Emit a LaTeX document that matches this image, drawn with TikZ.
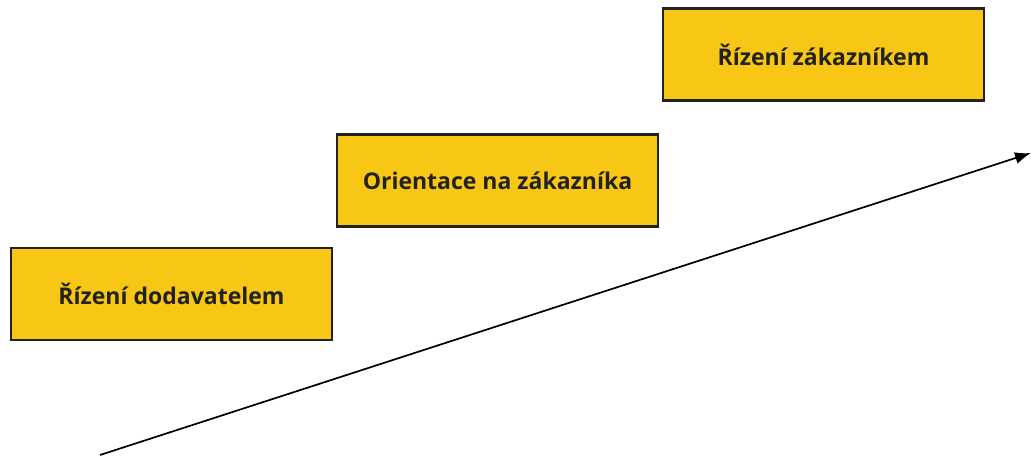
\documentclass[tikz,border=0pt]{standalone}
\usepackage{fontspec}
\setmainfont{Open Sans}
\usetikzlibrary{arrows.meta}
\definecolor{stepfill}{HTML}{F8C614}
\definecolor{stepline}{HTML}{222222}
\begin{document}
\begin{tikzpicture}[x=1pt,y=-1pt,
  stagebox/.style={draw=stepline,line width=2.8pt,fill=stepfill,
    minimum width=321pt,minimum height=92pt,inner sep=0pt,
    font=\fontsize{23}{27}\selectfont\bfseries,text=stepline},
  trend/.style={line width=1.7pt,-{Latex[length=16pt,width=12pt]}}]
  \useasboundingbox (0,0) rectangle (1031,458);
  \node[stagebox] (s1) at (171.5,294) {Řízení dodavatelem};
  \node[stagebox] (s2) at (497.5,180.5) {Orientace na zákazníka};
  \node[stagebox] (s3) at (823.5,54.5) {Řízení zákazníkem};
  \coordinate (a0) at (100,455);
  \coordinate (a1) at (1031,153);
  \draw[trend] (a0) -- (a1);
\end{tikzpicture}
\end{document}
